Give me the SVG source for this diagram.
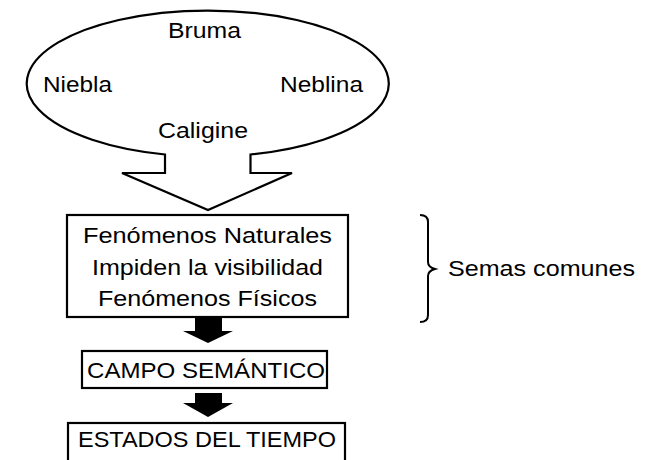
<svg xmlns="http://www.w3.org/2000/svg" width="657" height="460" viewBox="0 0 657 460">
<style>
text{font-family:"Liberation Sans",Arial,sans-serif;font-size:22px;fill:#000}
.o{fill:#fff;stroke:#000;stroke-width:2.2}
.b{fill:#000;stroke:none}
.br{fill:none;stroke:#000;stroke-width:2}
</style>
<rect width="657" height="460" fill="#fff"/>
<g id="callout">
<path class="o" d="M 250.5 154.5 L 250.5 173 L 292 173 L 208 210 L 122 173 L 165 173 L 165 154.5 A 181 73 0 1 1 250.5 154.5 Z"/>
<text x="168" y="38" textLength="73" lengthAdjust="spacingAndGlyphs">Bruma</text>
<text x="43" y="92" textLength="69" lengthAdjust="spacingAndGlyphs">Niebla</text>
<text x="280" y="92" textLength="83" lengthAdjust="spacingAndGlyphs">Neblina</text>
<text x="158" y="138" textLength="90" lengthAdjust="spacingAndGlyphs">Caligine</text>
</g>
<g id="semas">
<rect class="o" x="67" y="215" width="281" height="102"/>
<text x="83" y="243" textLength="249" lengthAdjust="spacingAndGlyphs">Fenómenos Naturales</text>
<text x="92" y="275" textLength="231" lengthAdjust="spacingAndGlyphs">Impiden la visibilidad</text>
<text x="98" y="306" textLength="219" lengthAdjust="spacingAndGlyphs">Fenómenos Físicos</text>
</g>
<g id="campo">
<rect class="o" x="82" y="351" width="245" height="37"/>
<text x="87" y="378" textLength="238" lengthAdjust="spacingAndGlyphs">CAMPO SEMÁNTICO</text>
</g>
<g id="estados">
<rect class="o" x="68" y="423" width="277" height="50"/>
<text x="78" y="447" textLength="258" lengthAdjust="spacingAndGlyphs">ESTADOS DEL TIEMPO</text>
</g>
<g id="connectors">
<path class="b" d="M 195 318 L 222 318 L 222 331 L 233 331 L 208 343 L 183 331 L 195 331 Z"/>
<path class="b" d="M 195 393 L 222 393 L 222 403 L 233 403 L 208 417 L 183 403 L 195 403 Z"/>
<path class="br" d="M 420 215 Q 428 215 428 222 L 428 262 Q 428 267 435 269 Q 428 271 428 276 L 428 315 Q 428 322 420 322"/>
</g>
<g id="label">
<text x="448" y="276" textLength="187" lengthAdjust="spacingAndGlyphs">Semas comunes</text>
</g>
</svg>
